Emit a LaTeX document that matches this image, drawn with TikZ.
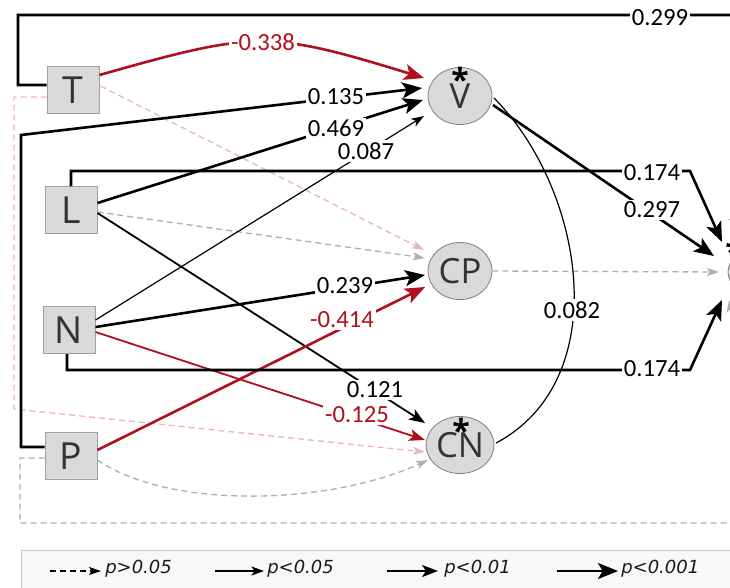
\documentclass[tikz,border=0pt]{standalone}
\usepackage{fontspec}
\setmainfont{Open Sans}
\newfontfamily\numfont{Carlito}
\newfontfamily\legfont{DejaVu Sans}
\usetikzlibrary{arrows.meta,shapes.geometric,calc}
\definecolor{boxfill}{HTML}{D9D9D9}
\definecolor{boxdraw}{HTML}{A0A0A0}
\definecolor{elldraw}{HTML}{7F7F7F}
\definecolor{negred}{HTML}{B0101E}
\definecolor{nspink}{HTML}{EDB6BA}
\definecolor{nsgray}{HTML}{AFAFAF}
\definecolor{txtgray}{HTML}{333333}
\definecolor{legfill}{HTML}{F8F8F8}
\definecolor{legdraw}{HTML}{C8C8C8}
\begin{document}
\begin{tikzpicture}[x=0.75pt,y=-0.75pt,
  var/.style={draw=boxdraw, fill=boxfill, line width=0.75pt, minimum width=39pt, minimum height=35.25pt, inner sep=0pt, text=txtgray, font=\fontsize{28}{30}\selectfont},
  resp/.style={ellipse, draw=elldraw, fill=boxfill, line width=0.6pt, minimum width=48pt, minimum height=42.75pt, inner sep=0pt, text=txtgray, font=\fontsize{26}{28}\selectfont},
  starmark/.style={font=\fontsize{24}{26}\selectfont\bfseries, inner sep=0pt, anchor=north},
  coef/.style={fill=white, inner sep=1.5pt, font=\numfont\fontsize{18.5}{20}\selectfont},
  negcoef/.style={coef, text=negred},
  pthin/.style={line width=0.9pt, -{Stealth[length=9.5pt,width=6.8pt,inset=2.5pt]}},
  pmed/.style={line width=1.35pt, -{Stealth[length=12pt,width=9pt,inset=3pt]}},
  pthick/.style={line width=1.95pt, -{Stealth[length=15pt,width=12pt,inset=3.5pt]}},
  pns/.style={line width=1pt, dash pattern=on 4.5pt off 3pt, -{Stealth[length=9pt,width=6pt,inset=2pt]}},
  plain/.style={line width=0.9pt},
  legtxt/.style={anchor=west, inner sep=0pt, font=\legfont\fontsize{13.5}{15}\selectfont\itshape, text=black!90}
]
\useasboundingbox (0,0) rectangle (730,587);
\clip (0,0) rectangle (730,587);

% nodes
\node[var] (T) at (73,90) {T};
\node[var] (L) at (71,210) {L};
\node[var] (N) at (69,330) {N};
\node[var] (P) at (71,456) {P};
\node[resp] (V) at (460,96) {\raisebox{-3pt}{V}};
\node[resp] (CP) at (460,271) {CP};
\node[resp] (CN) at (460,445) {\raisebox{-3pt}{CN}};
\node[resp, minimum width=70.5pt] (R) at (775,272) {};
\node[starmark] (sV) at (460,67) {*};
\node[starmark] (sCN) at (461,418) {*};
\node[starmark] (sR) at (734,239) {*};

% non-significant paths
\draw[pns, nspink] ($(T.east)+(1,-4)$) -- ($(CP)+(-36,-21)$);
\draw[pns, nspink] ($(T.west)+(0,7)$) -- (14,97) -- (14,409) -- ($(CN)+(-35,7)$);
\draw[pns, nsgray] ($(L.east)+(0,2)$) -- ($(CP)+(-35,-13)$);
\draw[pns, nsgray] ($(P.east)+(0,4)$) .. controls (170,510) and (330,505) .. ($(CN)+(-32,15)$);
\draw[pns, nsgray] (CP.east) -- ($(R)+(-56,0)$);
\draw[pns, nsgray] ($(P.west)+(0,2)$) -- (20,458) -- (20,523) -- (760,523) -- ($(R)+(-46,28)$);

% significant paths
\draw[pthick, negred] ($(T.east)+(0,-15)$) .. controls (255,31) and (268,30) .. ($(V)+(-36,-18)$);
\draw[pthick] ($(T.west)+(0,-5)$) -- (18,85) -- (18,15) -- (765,15) -- ($(R)+(-40,-32)$);
\draw[pthick] ($(P.west)+(0,-9)$) -- (21,447) -- (21,135) -- ($(V)+(-38,-8)$);
\draw[pthick] ($(L.east)+(0,-7)$) -- ($(V)+(-37,4)$);
\draw[pthin] ($(N.east)+(0,-10)$) -- ($(V)+(-36,20)$);
\draw[pthick] (L.north) -- (71,171) -- (690,171) -- ($(R)+(-53,-30)$);
\draw[pthick] ($(V)+(33,9)$) -- ($(R)+(-61,-16)$);
\draw[plain] ($(V)+(34,2)$) .. controls (585,190) and (615,380) .. ($(CN)+(36,-2)$);
\draw[pmed] ($(L.east)+(0,3)$) -- ($(CN)+(-35,-22)$);
\draw[pthick] ($(N.east)+(0,-3)$) -- ($(CP)+(-35,4)$);
\draw[pthick, negred] ($(P.east)+(0,-6)$) -- ($(CP)+(-35,16)$);
\draw[pmed, negred] ($(N.east)+(0,2)$) -- ($(CN)+(-35,-5)$);
\draw[pthick] ($(N.south)+(-2,0)$) -- (67,370) -- (690,370) -- ($(R)+(-53,28)$);

% coefficient labels
\node[negcoef] (c1) at (263,42) {-0.338};
\node[coef] (c2) at (660,18) {0.299};
\node[coef] (c3) at (336,97) {0.135};
\node[coef] (c4) at (336,128) {0.469};
\node[coef] (c5) at (366,151) {0.087};
\node[coef] (c6) at (652,173) {0.174};
\node[coef] (c7) at (652,210) {0.297};
\node[coef] (c8) at (572,310) {0.082};
\node[coef] (c9) at (345,286) {0.239};
\node[negcoef] (c10) at (342,320) {-0.414};
\node[coef] (c11) at (652,369) {0.174};
\node[coef] (c12) at (375,390) {0.121};
\node[negcoef] (c13) at (357,415) {-0.125};

% legend
\draw[legdraw, fill=legfill, line width=0.75pt] (21,550) rectangle (745,600);
\coordinate (la1) at (50,571); \coordinate (lb1) at (101,571);
\coordinate (la2) at (215,571); \coordinate (lb2) at (264,571);
\coordinate (la3) at (387,571); \coordinate (lb3) at (438,571);
\coordinate (la4) at (557,571); \coordinate (lb4) at (618,571);
\draw[pns, black, line width=1.1pt] (la1) -- (lb1);
\draw[pthin] (la2) -- (lb2);
\draw[pmed] (la3) -- (lb3);
\draw[pthick] (la4) -- (lb4);
\node[legtxt] (lt1) at (105,569) {p>0.05};
\node[legtxt] (lt2) at (267,569) {p<0.05};
\node[legtxt] (lt3) at (444,569) {p<0.01};
\node[legtxt] (lt4) at (621,569) {p<0.001};
\end{tikzpicture}
\end{document}
